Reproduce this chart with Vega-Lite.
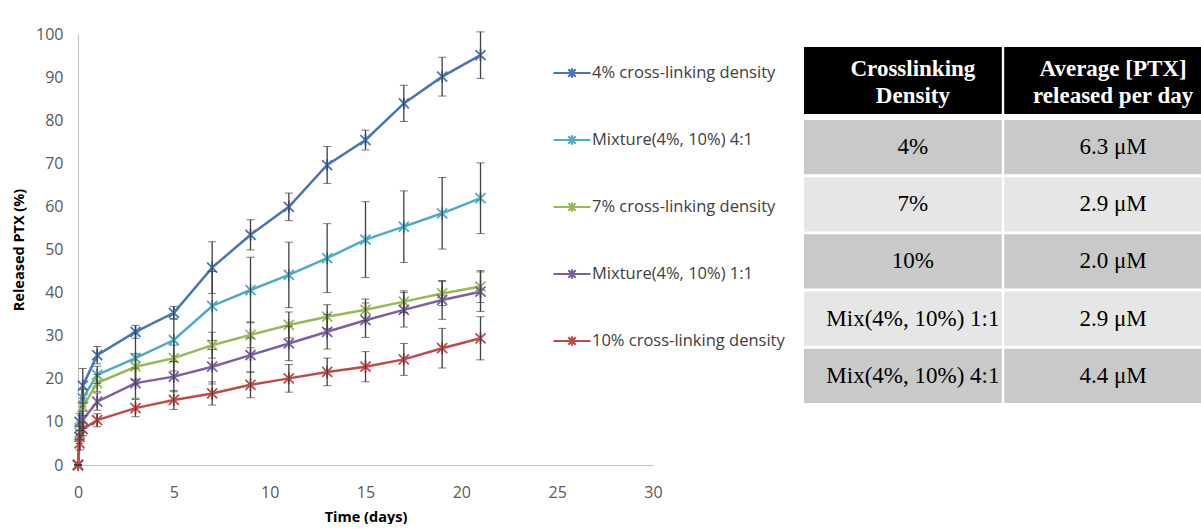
{
  "$schema": "https://vega.github.io/schema/vega-lite/v6.json",
  "padding": {"left": 11, "top": 26, "right": 0, "bottom": 0},
  "bounds": "flush",
  "spacing": 151,
  "background": "white",
  "config": {"view": {"stroke": null}, "font": "Open Sans"},
  "datasets": {
    "rel": [
      {"s": "4% cross-linking density", "d": 0, "v": 0, "e": 0},
      {"s": "4% cross-linking density", "d": 0.083, "v": 10, "e": 2},
      {"s": "4% cross-linking density", "d": 0.25, "v": 18.4, "e": 4},
      {"s": "4% cross-linking density", "d": 1, "v": 25.5, "e": 2},
      {"s": "4% cross-linking density", "d": 3, "v": 30.9, "e": 1.5},
      {"s": "4% cross-linking density", "d": 5, "v": 35.3, "e": 1.5},
      {"s": "4% cross-linking density", "d": 7, "v": 45.8, "e": 6},
      {"s": "4% cross-linking density", "d": 9, "v": 53.4, "e": 3.5},
      {"s": "4% cross-linking density", "d": 11, "v": 59.9, "e": 3.2},
      {"s": "4% cross-linking density", "d": 13, "v": 69.6, "e": 4.3},
      {"s": "4% cross-linking density", "d": 15, "v": 75.4, "e": 2.3},
      {"s": "4% cross-linking density", "d": 17, "v": 83.9, "e": 4.2},
      {"s": "4% cross-linking density", "d": 19, "v": 90.1, "e": 4.5},
      {"s": "4% cross-linking density", "d": 21, "v": 95.1, "e": 5.4},
      {"s": "Mixture(4%, 10%) 4:1", "d": 0, "v": 0, "e": 0},
      {"s": "Mixture(4%, 10%) 4:1", "d": 0.083, "v": 8.5, "e": 1.5},
      {"s": "Mixture(4%, 10%) 4:1", "d": 0.25, "v": 15.5, "e": 2},
      {"s": "Mixture(4%, 10%) 4:1", "d": 1, "v": 20.9, "e": 2},
      {"s": "Mixture(4%, 10%) 4:1", "d": 3, "v": 24.8, "e": 6},
      {"s": "Mixture(4%, 10%) 4:1", "d": 5, "v": 29, "e": 5},
      {"s": "Mixture(4%, 10%) 4:1", "d": 7, "v": 36.9, "e": 8},
      {"s": "Mixture(4%, 10%) 4:1", "d": 9, "v": 40.6, "e": 7.6},
      {"s": "Mixture(4%, 10%) 4:1", "d": 11, "v": 44.1, "e": 7.6},
      {"s": "Mixture(4%, 10%) 4:1", "d": 13, "v": 48, "e": 8},
      {"s": "Mixture(4%, 10%) 4:1", "d": 15, "v": 52.3, "e": 8.8},
      {"s": "Mixture(4%, 10%) 4:1", "d": 17, "v": 55.3, "e": 8.3},
      {"s": "Mixture(4%, 10%) 4:1", "d": 19, "v": 58.4, "e": 8.3},
      {"s": "Mixture(4%, 10%) 4:1", "d": 21, "v": 61.9, "e": 8.2},
      {"s": "7% cross-linking density", "d": 0, "v": 0, "e": 0},
      {"s": "7% cross-linking density", "d": 0.083, "v": 7.5, "e": 1.5},
      {"s": "7% cross-linking density", "d": 0.25, "v": 13.5, "e": 2},
      {"s": "7% cross-linking density", "d": 1, "v": 19, "e": 2},
      {"s": "7% cross-linking density", "d": 3, "v": 22.8, "e": 3},
      {"s": "7% cross-linking density", "d": 5, "v": 24.8, "e": 3},
      {"s": "7% cross-linking density", "d": 7, "v": 27.8, "e": 3},
      {"s": "7% cross-linking density", "d": 9, "v": 30.2, "e": 3},
      {"s": "7% cross-linking density", "d": 11, "v": 32.5, "e": 3},
      {"s": "7% cross-linking density", "d": 13, "v": 34.4, "e": 2.8},
      {"s": "7% cross-linking density", "d": 15, "v": 36, "e": 2.5},
      {"s": "7% cross-linking density", "d": 17, "v": 37.9, "e": 2.5},
      {"s": "7% cross-linking density", "d": 19, "v": 39.8, "e": 2.8},
      {"s": "7% cross-linking density", "d": 21, "v": 41.4, "e": 3.7},
      {"s": "Mixture(4%, 10%) 1:1", "d": 0, "v": 0, "e": 0},
      {"s": "Mixture(4%, 10%) 1:1", "d": 0.083, "v": 6.5, "e": 1.5},
      {"s": "Mixture(4%, 10%) 1:1", "d": 0.25, "v": 10.5, "e": 2},
      {"s": "Mixture(4%, 10%) 1:1", "d": 1, "v": 14.7, "e": 2},
      {"s": "Mixture(4%, 10%) 1:1", "d": 3, "v": 19, "e": 3.5},
      {"s": "Mixture(4%, 10%) 1:1", "d": 5, "v": 20.5, "e": 3.5},
      {"s": "Mixture(4%, 10%) 1:1", "d": 7, "v": 22.8, "e": 4},
      {"s": "Mixture(4%, 10%) 1:1", "d": 9, "v": 25.5, "e": 4},
      {"s": "Mixture(4%, 10%) 1:1", "d": 11, "v": 28.2, "e": 4},
      {"s": "Mixture(4%, 10%) 1:1", "d": 13, "v": 30.9, "e": 4},
      {"s": "Mixture(4%, 10%) 1:1", "d": 15, "v": 33.6, "e": 4},
      {"s": "Mixture(4%, 10%) 1:1", "d": 17, "v": 36, "e": 4},
      {"s": "Mixture(4%, 10%) 1:1", "d": 19, "v": 38.3, "e": 4.5},
      {"s": "Mixture(4%, 10%) 1:1", "d": 21, "v": 40.2, "e": 4.6},
      {"s": "10% cross-linking density", "d": 0, "v": 0, "e": 0},
      {"s": "10% cross-linking density", "d": 0.083, "v": 5, "e": 1.5},
      {"s": "10% cross-linking density", "d": 0.25, "v": 8.3, "e": 1.5},
      {"s": "10% cross-linking density", "d": 1, "v": 10.4, "e": 1.5},
      {"s": "10% cross-linking density", "d": 3, "v": 13.2, "e": 2},
      {"s": "10% cross-linking density", "d": 5, "v": 15.1, "e": 2.2},
      {"s": "10% cross-linking density", "d": 7, "v": 16.6, "e": 2.7},
      {"s": "10% cross-linking density", "d": 9, "v": 18.6, "e": 3},
      {"s": "10% cross-linking density", "d": 11, "v": 20.1, "e": 3.2},
      {"s": "10% cross-linking density", "d": 13, "v": 21.6, "e": 3.2},
      {"s": "10% cross-linking density", "d": 15, "v": 22.8, "e": 3.5},
      {"s": "10% cross-linking density", "d": 17, "v": 24.5, "e": 3.7},
      {"s": "10% cross-linking density", "d": 19, "v": 27.1, "e": 4.6},
      {"s": "10% cross-linking density", "d": 21, "v": 29.4, "e": 5}
    ],
    "head": [
      {"row": "H", "col": "c1", "t": "Crosslinking\nDensity"},
      {"row": "H", "col": "c2", "t": "Average [PTX]\nreleased per day"}
    ],
    "body": [
      {"row": "4%", "col": "c1", "t": "4%"},
      {"row": "4%", "col": "c2", "t": "6.3 μM"},
      {"row": "7%", "col": "c1", "t": "7%"},
      {"row": "7%", "col": "c2", "t": "2.9 μM"},
      {"row": "10%", "col": "c1", "t": "10%"},
      {"row": "10%", "col": "c2", "t": "2.0 μM"},
      {"row": "Mix 1:1", "col": "c1", "t": "Mix(4%, 10%) 1:1"},
      {"row": "Mix 1:1", "col": "c2", "t": "2.9 μM"},
      {"row": "Mix 4:1", "col": "c1", "t": "Mix(4%, 10%) 4:1"},
      {"row": "Mix 4:1", "col": "c2", "t": "4.4 μM"}
    ]
  },
  "hconcat": [
    {
      "width": 575,
      "height": 431,
      "data": {"name": "rel"},
      "layer": [
        {
          "mark": {"type": "line", "strokeWidth": 2.5},
          "encoding": {
            "x": {"field": "d", "type": "quantitative", "scale": {"domain": [0, 30], "nice": false},
              "axis": {"title": "Time (days)", "values": [0, 5, 10, 15, 20, 25, 30], "grid": false, "ticks": false, "tickSize": 0, "domainColor": "#bfbfbf", "labelFontSize": 16, "labelColor": "#595959", "labelPadding": 19, "labelFlush": false, "labelOverlap": false, "titleFontSize": 14.5, "titleFontWeight": "bold", "titleColor": "#000000", "titlePadding": 10}},
            "y": {"field": "v", "type": "quantitative", "scale": {"domain": [0, 100], "nice": false},
              "axis": {"title": "Released PTX (%)", "values": [0, 10, 20, 30, 40, 50, 60, 70, 80, 90, 100], "grid": false, "ticks": false, "tickSize": 0, "domainColor": "#bfbfbf", "labelFontSize": 16, "labelColor": "#595959", "labelPadding": 15, "labelFlush": false, "labelOverlap": false, "titleFontSize": 14.5, "titleFontWeight": "bold", "titleColor": "#000000", "titlePadding": 9}},
            "color": {"field": "s", "type": "nominal",
              "scale": {"domain": ["4% cross-linking density", "Mixture(4%, 10%) 4:1", "7% cross-linking density", "Mixture(4%, 10%) 1:1", "10% cross-linking density"], "range": ["#4675B8", "#4BACC6", "#98B954", "#7D60A0", "#BE4B48"]},
              "legend": {"orient": "none", "legendX": 474, "legendY": 19, "title": null, "symbolType": "M-1,0H1M-0.2,-0.2L0.2,0.2M-0.2,0.2L0.2,-0.2M0,-0.26V0.26", "symbolSize": 1369, "symbolStrokeWidth": 2.2, "labelFontSize": 16.5, "labelColor": "#404040", "labelLimit": 0, "rowPadding": 37, "labelOffset": 0, "padding": 0,
                "encode": {"symbols": {"update": {"shape": {"value": "M-1,0H1M-0.2,-0.2L0.2,0.2M-0.2,0.2L0.2,-0.2M0,-0.26V0.26"}, "size": {"value": 1369}, "strokeWidth": {"value": 2.2}, "fill": {"value": "transparent"}, "opacity": {"value": 1}}}}}}
          }
        },
        {
          "mark": {"type": "point", "shape": "M-1,-1L1,1M-1,1L1,-1M0,-1.2V1.2", "filled": false, "size": 100, "strokeWidth": 1.8, "opacity": 1},
          "encoding": {
            "x": {"field": "d", "type": "quantitative"},
            "y": {"field": "v", "type": "quantitative"},
            "color": {"field": "s", "type": "nominal"}
          }
        },
        {
          "mark": {"type": "errorbar", "ticks": {"size": 8, "color": "#404040", "strokeWidth": 1.3}, "rule": {"color": "#404040", "strokeWidth": 1.3}},
          "encoding": {
            "x": {"field": "d", "type": "quantitative"},
            "y": {"field": "v", "type": "quantitative", "title": "Released PTX (%)"},
            "yError": {"field": "e"}
          }
        }
      ]
    },
    {
      "width": 398,
      "height": 431,
      "resolve": {"scale": {"y": "independent"}},
      "layer": [
        {
          "data": {"name": "head"},
          "encoding": {
            "x": {"field": "col", "type": "nominal", "axis": null, "scale": {"domain": ["c1", "c2"], "paddingInner": 0.012, "paddingOuter": 0}},
            "y": {"field": "row", "type": "nominal", "axis": null, "scale": {"domain": ["H", "h1", "h2", "h3", "h4", "h5"], "paddingInner": 0, "paddingOuter": 0.2165, "align": 0.448}}
          },
          "layer": [
            {"mark": {"type": "rect", "stroke": null, "color": "#000000"}},
            {
              "mark": {"type": "text", "font": "Liberation Serif", "fontSize": 23, "fontWeight": "bold", "color": "#ffffff", "lineBreak": "\n", "lineHeight": 27, "baseline": "middle", "dx": 10, "dy": -11},
              "encoding": {"text": {"field": "t"}}
            }
          ]
        },
        {
          "data": {"name": "body"},
          "encoding": {
            "x": {"field": "col", "type": "nominal", "axis": null},
            "y": {"field": "row", "type": "nominal", "axis": null, "scale": {"domain": ["b0", "4%", "7%", "10%", "Mix 1:1", "Mix 4:1", "b6"], "paddingInner": 0.052, "paddingOuter": 0.2935, "align": 0.857}}
          },
          "layer": [
            {
              "mark": {"type": "rect", "stroke": null},
              "encoding": {
                "fill": {"field": "row", "type": "nominal", "scale": {"domain": ["4%", "7%", "10%", "Mix 1:1", "Mix 4:1"], "range": ["#c9c9c9", "#e6e6e6", "#c9c9c9", "#e6e6e6", "#c9c9c9"]}, "legend": null}
              }
            },
            {
              "mark": {"type": "text", "font": "Liberation Serif", "fontSize": 23, "color": "#000000", "baseline": "middle", "dx": 10},
              "encoding": {"text": {"field": "t"}}
            }
          ]
        }
      ]
    }
  ]
}
